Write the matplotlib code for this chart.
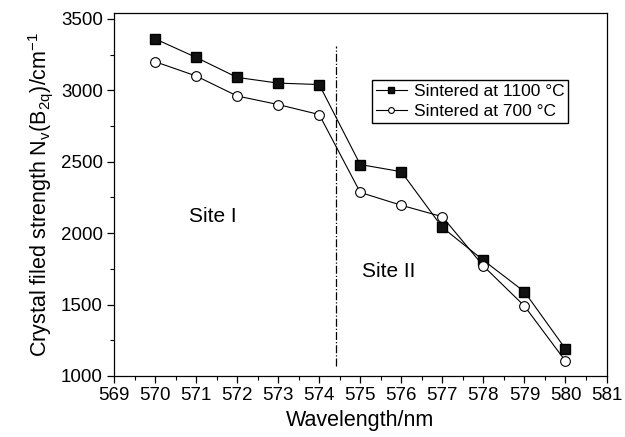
import numpy as np
import matplotlib
matplotlib.use('Agg')
import matplotlib.pyplot as plt
from matplotlib.ticker import MultipleLocator

plt.rcParams['font.family'] = ['Liberation Sans', 'DejaVu Sans']
plt.rcParams['mathtext.fontset'] = 'custom'
plt.rcParams['mathtext.rm'] = 'Liberation Sans'
plt.rcParams['mathtext.it'] = 'Liberation Sans'

# datos
longitud_onda = [570, 571, 572, 573, 574, 575, 576, 577, 578, 579, 580]
campo_1100 = [3360, 3230, 3090, 3050, 3040, 2480, 2430, 2040, 1810, 1590, 1190]
campo_700 = [3200, 3100, 2960, 2900, 2830, 2285, 2195, 2115, 1770, 1490, 1105]
limite_sitios = 574.4

fig = plt.figure(figsize=(6.25, 4.37), dpi=100)
ax = fig.add_axes([0.1824, 0.1396, 0.7880, 0.8304])

ax.plot(longitud_onda, campo_1100, '-s', color='black', lw=0.8,
        ms=6.5, mfc='#111111', mec='black', label='Sintered at 1100 °C')
ax.plot(longitud_onda, campo_700, '-o', color='black', lw=0.8,
        ms=7, mfc='white', mec='black', mew=0.8, label='Sintered at 700 °C')

# linea divisoria entre sitios
ax.plot([limite_sitios, limite_sitios], [1070, 3310], color='black', lw=0.9, ls='-.')

ax.text(571.4, 2118, 'Site I', fontsize=15, ha='center', va='center')
ax.text(575.7, 1734, 'Site II', fontsize=15, ha='center', va='center')

ax.set_xlim(569, 581)
ax.set_ylim(1000, 3540)
ax.xaxis.set_major_locator(MultipleLocator(1))
ax.xaxis.set_minor_locator(MultipleLocator(0.5))
ax.yaxis.set_major_locator(MultipleLocator(500))
ax.yaxis.set_minor_locator(MultipleLocator(250))
ax.tick_params(axis='both', which='major', direction='out', length=5, width=0.9,
               labelsize=13.5, pad=3)
ax.tick_params(axis='both', which='minor', direction='out', length=3, width=0.8)
for s in ax.spines.values():
    s.set_linewidth(0.9)

ax.set_xlabel('Wavelength/nm', fontsize=15.5, labelpad=4)
ax.set_ylabel(r'Crystal filed strength N$_\mathregular{v}$(B$_\mathregular{2q}$)/cm$^{-1}$',
              fontsize=15.5, labelpad=4)

ax.legend(loc='upper right', bbox_to_anchor=(0.9215, 0.815), fontsize=12.5,
          frameon=True, fancybox=False, edgecolor='black', framealpha=1,
          markerscale=0.6, handlelength=1.8, handletextpad=0.4,
          borderpad=0.2, labelspacing=0.3, borderaxespad=0)

fig.savefig('out.png', dpi=100)
